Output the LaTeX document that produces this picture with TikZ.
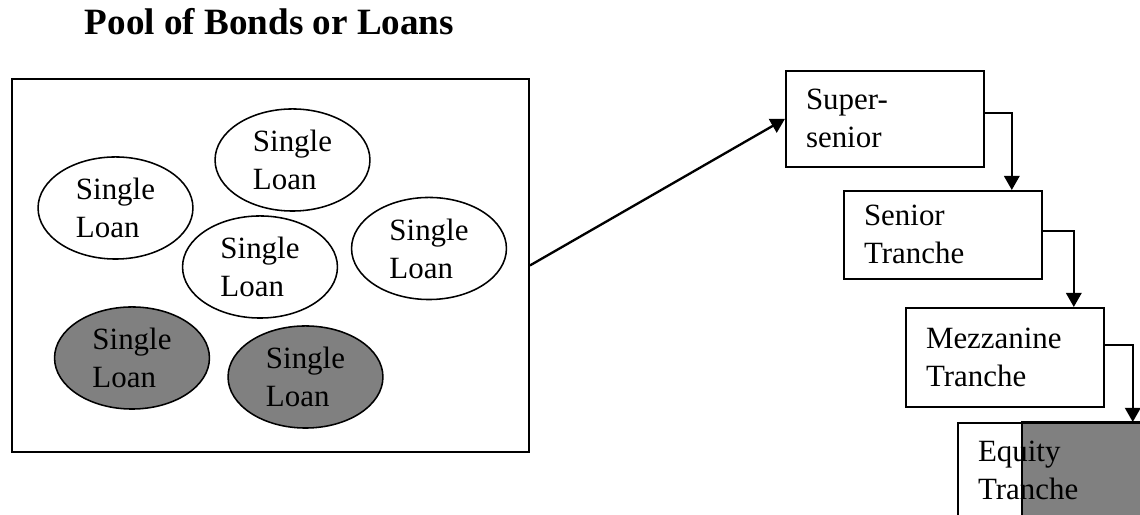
\documentclass[tikz,border=0pt]{standalone}
\usepackage{fontspec}
\setmainfont{Liberation Serif}
\usepackage{tikz}
\usetikzlibrary{shapes.geometric, arrows.meta}
\definecolor{lgray}{RGB}{128,128,128}

\begin{document}
\begin{tikzpicture}[
  x=0.388pt, y=-0.388pt,
  font=\fontsize{12pt}{14.7pt}\selectfont,
  loan/.style={draw,ellipse,line width=0.6pt,minimum width=60.1pt,
               minimum height=39.6pt,inner sep=0pt,align=left},
  bad/.style={loan,fill=lgray},
  tranche/.style={draw,line width=0.7pt,anchor=north west,align=left,
                  text width=61.2pt,inner xsep=7.8pt,minimum width=76.8pt},
  arr/.style={-{Triangle[length=5.5pt,width=6pt]},line width=0.9pt}
]
  \useasboundingbox (0,0) rectangle (1140,515);
  \node[font=\fontsize{14.4pt}{17pt}\selectfont\bfseries,anchor=base]
    (title) at (269.5,35) {Pool of Bonds or Loans};
  \node[draw,line width=0.7pt,minimum width=200.6pt,minimum height=144.7pt,
    inner sep=0pt] (pool) at (270.5,265.5) {};
  \node[loan] (l1) at (115.5,208) {Single\\Loan};
  \node[loan] (l2) at (292.5,160) {Single\\Loan};
  \node[loan] (l3) at (260,267) {Single\\Loan};
  \node[loan] (l4) at (429,248.5) {Single\\Loan};
  \node[bad] (l5) at (132,358) {Single\\Loan};
  \node[bad] (l6) at (305.5,377) {Single\\Loan};
  % tranches
  \node[tranche,minimum height=37.2pt] (sup) at (785,70) {Super-\\senior};
  \node[tranche,minimum height=34.1pt] (sen) at (843,190) {Senior\\Tranche};
  \node[tranche,minimum height=38.4pt] (mez) at (905,307) {Mezzanine\\Tranche};
  \fill[lgray,draw=black,line width=0.7pt] (1022,422) rectangle (1170,530);
  \node[tranche,minimum height=37.2pt] (eq) at (957,422) {Equity\\Tranche};
  \draw[arr] (pool.east)--(sup.west);
  \foreach \a/\b/\u/\v in {sup/sen/2.3/12,sen/mez/1.5/12,mez/eq/4.8/9.3}
    \draw[arr] ([yshift=\u pt]\a.east) -| ([xshift=-\v pt]\b.north east);
\end{tikzpicture}
\end{document}
